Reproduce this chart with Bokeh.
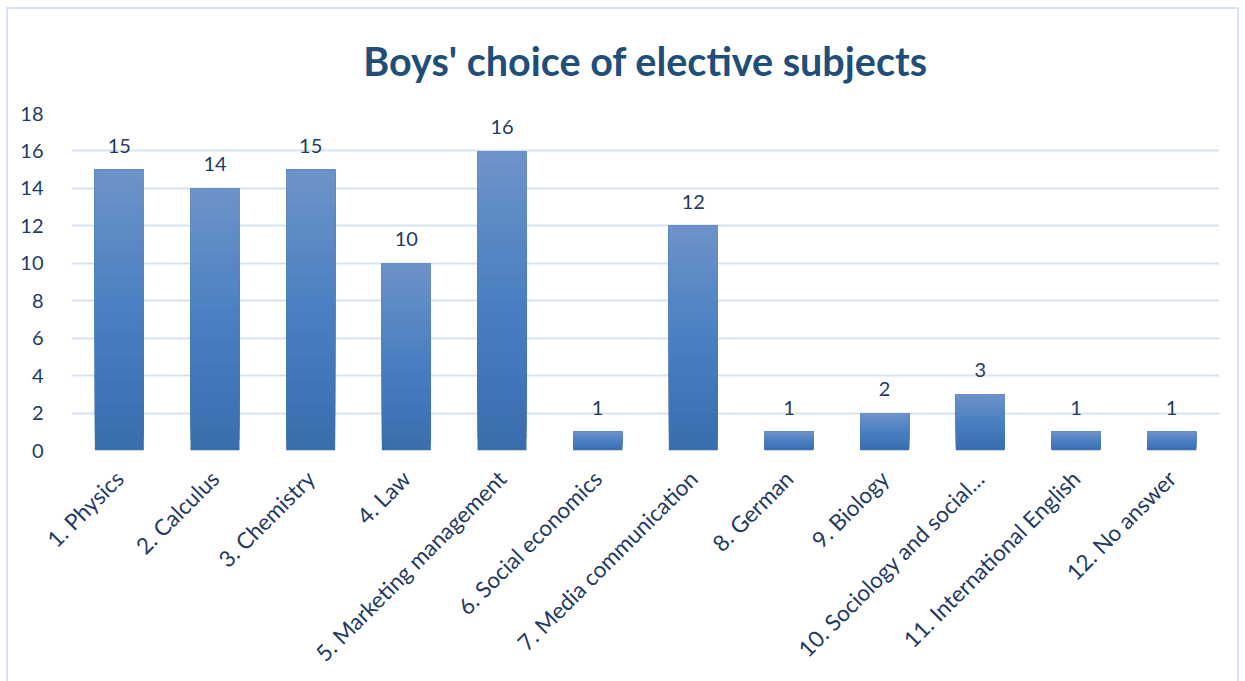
import numpy as np
from bokeh.plotting import figure
from bokeh.models import ColumnDataSource, FactorRange, FixedTicker, LabelSet, InlineStyleSheet
from bokeh.core.properties import value
from bokeh.embed import file_html
from bokeh.resources import INLINE
from math import pi

categories = ["1. Physics", "2. Calculus", "3. Chemistry", "4. Law",
              "5. Marketing management", "6. Social economics",
              "7. Media communication", "8. German", "9. Biology",
              "10. Sociology and social\u2026", "11. International English",
              "12. No answer"]
values = [15, 14, 15, 10, 16, 1, 12, 1, 2, 3, 1, 1]
y_ticks = [0, 2, 4, 6, 8, 10, 12, 14, 16, 18]

TEXT = "#1f3a64"
GRID = "#d9e2f3"
FONT = "Lato"

# gradient stops (top -> bottom)
stops = [(0.0, (0x6e, 0x93, 0xc9)), (0.5, (0x4a, 0x7f, 0xc2)), (1.0, (0x3a, 0x6d, 0xae))]

def grad(t):
    for (t0, c0), (t1, c1) in zip(stops[:-1], stops[1:]):
        if t0 <= t <= t1:
            f = (t - t0) / (t1 - t0)
            c = [int(round(a + (b - a) * f)) for a, b in zip(c0, c1)]
            return "#%02x%02x%02x" % tuple(c)
    return "#%02x%02x%02x" % stops[-1][1]

N = 24
xs, bots, tops, cols = [], [], [], []
for k in range(N):
    for cat, v in zip(categories, values):
        xs.append(cat)
        bots.append(v * k / N)
        tops.append(v)
        cols.append(grad(1 - (k + 0.5) / N))
seg = ColumnDataSource(dict(x=xs, bottom=bots, top=tops, color=cols))

css = InlineStyleSheet(css="""
:host { position: relative; }
:host::after { content: ''; position: absolute; left: 6px; top: 7px; right: 6px; bottom: -4px;
  border: 2px solid #d6e3f4; border-bottom: none; pointer-events: none; }
""")

p = figure(width=1245, height=681, x_range=FactorRange(*categories), y_range=(0, 18),
           output_backend="svg", toolbar_location=None,
           min_border_left=71, min_border_right=26, min_border_top=113, min_border_bottom=231,
           title="Boys' choice of elective subjects", stylesheets=[css])

p.vbar(x="x", bottom="bottom", top="top", width=0.512, source=seg,
       fill_color="color", line_color=None)

lbl = ColumnDataSource(dict(x=categories, y=values, t=[str(v) for v in values]))
p.add_layout(LabelSet(x="x", y="y", text="t", source=lbl, text_align="center",
                      text_baseline="bottom", y_offset=17, text_font=value(FONT),
                      text_font_size="20px", text_color=TEXT))

p.title.align = "center"
p.title.text_font = FONT
p.title.text_font_size = "39.5px"
p.title.text_font_style = "bold"
p.title.text_color = "#1f4e79"
p.title.text_line_height = 0.8
p.title.standoff = 60

p.outline_line_color = None
p.xgrid.grid_line_color = None
p.ygrid.grid_line_color = GRID
p.ygrid.grid_line_width = 2
p.yaxis.ticker = FixedTicker(ticks=y_ticks)
for ax in (p.xaxis, p.yaxis):
    ax.axis_line_color = None
    ax.major_tick_line_color = None
    ax.minor_tick_line_color = None
    ax.major_label_text_font = FONT
    ax.major_label_text_color = TEXT
p.yaxis.major_label_text_font_size = "20px"
p.xaxis.major_label_text_font_size = "22.5px"
p.yaxis.major_label_standoff = 22
p.xaxis.major_label_orientation = pi / 4
p.xaxis.major_label_standoff = 18

open("out.html", "w").write(file_html(p, INLINE))
